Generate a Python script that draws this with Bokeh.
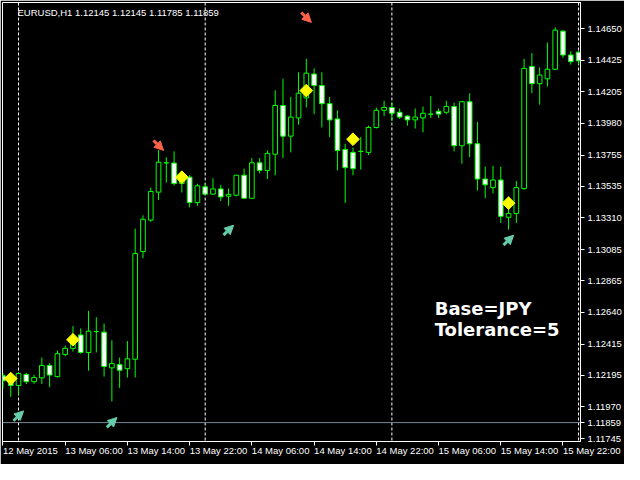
import math
import numpy as np
from bokeh.plotting import figure
from bokeh.models import (ColumnDataSource, LinearAxis, FixedTicker, PrintfTickFormatter,
                          Span, Label, Arrow, NormalHead)
from bokeh.embed import file_html
from bokeh.resources import INLINE

symbol_info = "EURUSD,H1  1.12145 1.12145 1.11785 1.11859"
last_price = 1.11859
base_text = "Base=JPY"
tolerance_text = "Tolerance=5"

# H1 candles, 12 May 22:00 .. 16 May 00:00 (bar index 0..74)
opens = [1.12191, 1.12164, 1.12122, 1.12200, 1.12149, 1.12176, 1.12264, 1.12185, 1.12342, 1.12385,
         1.12480, 1.12356, 1.12504, 1.12500, 1.12247, 1.12270, 1.12241, 1.12308, 1.13071, 1.13294,
         1.13492, 1.13700, 1.13698, 1.13553, 1.13598, 1.13418, 1.13530, 1.13478, 1.13515, 1.13463,
         1.13470, 1.13612, 1.13449, 1.13700, 1.13646, 1.13761, 1.14106, 1.13889, 1.14018, 1.14160,
         1.14329, 1.14248, 1.14119, 1.14011, 1.13794, 1.13774, 1.13781, 1.13774, 1.13950, 1.14072,
         1.14092, 1.14058, 1.14031, 1.14004, 1.14018, 1.14045, 1.14065, 1.14058, 1.14099, 1.13821,
         1.14133, 1.13835, 1.13585, 1.13524, 1.13578, 1.13314, 1.13341, 1.13517, 1.14383, 1.14261,
         1.14295, 1.14363, 1.14633, 1.14464, 1.14484]
highs = [1.12212, 1.12185, 1.12210, 1.12212, 1.12198, 1.12320, 1.12279, 1.12369, 1.12403, 1.12543,
         1.12527, 1.12651, 1.12606, 1.12561, 1.12442, 1.12320, 1.12437, 1.13233, 1.13328, 1.13524,
         1.13790, 1.13740, 1.13781, 1.13632, 1.13612, 1.13551, 1.13553, 1.13591, 1.13544, 1.13517,
         1.13615, 1.13659, 1.13733, 1.13733, 1.13788, 1.14214, 1.14295, 1.14166, 1.14342, 1.14437,
         1.14369, 1.14342, 1.14166, 1.14072, 1.13835, 1.13808, 1.13882, 1.13963, 1.14092, 1.14139,
         1.14126, 1.14085, 1.14038, 1.14085, 1.14099, 1.14173, 1.14085, 1.14139, 1.14126, 1.14139,
         1.14193, 1.13990, 1.13673, 1.13679, 1.13673, 1.13382, 1.13571, 1.14437, 1.14478, 1.14376,
         1.14552, 1.14660, 1.14640, 1.14491, 1.14491]
lows = [1.12099, 1.12042, 1.12056, 1.12132, 1.12134, 1.12132, 1.12110, 1.12178, 1.12329, 1.12362,
        1.12347, 1.12227, 1.12356, 1.12185, 1.12009, 1.12105, 1.12178, 1.12178, 1.13023, 1.13282,
        1.13436, 1.13560, 1.13540, 1.13490, 1.13384, 1.13395, 1.13474, 1.13474, 1.13429, 1.13395,
        1.13463, 1.13446, 1.13446, 1.13625, 1.13585, 1.13612, 1.13733, 1.13774, 1.13970, 1.14092,
        1.14045, 1.13950, 1.13882, 1.13646, 1.13416, 1.13612, 1.13652, 1.13754, 1.13943, 1.14031,
        1.13997, 1.14011, 1.13963, 1.13943, 1.13916, 1.14018, 1.14018, 1.14045, 1.13781, 1.13693,
        1.13740, 1.13504, 1.13449, 1.13483, 1.13274, 1.13226, 1.13274, 1.13510, 1.14193, 1.14112,
        1.14241, 1.14356, 1.14444, 1.14396, 1.14396]
closes = [1.12155, 1.12122, 1.12207, 1.12149, 1.12178, 1.12264, 1.12196, 1.12347, 1.12385, 1.12448,
          1.12356, 1.12507, 1.12504, 1.12257, 1.12277, 1.12230, 1.12311, 1.13057, 1.13300, 1.13497,
          1.13704, 1.13700, 1.13553, 1.13598, 1.13418, 1.13537, 1.13478, 1.13515, 1.13458, 1.13476,
          1.13612, 1.13449, 1.13700, 1.13646, 1.13767, 1.14106, 1.13889, 1.14024, 1.14193, 1.14335,
          1.14248, 1.14119, 1.14004, 1.13788, 1.13666, 1.13659, 1.13781, 1.13950, 1.14072, 1.14092,
          1.14051, 1.14024, 1.14004, 1.14024, 1.14051, 1.14045, 1.14045, 1.14099, 1.13821, 1.14133,
          1.13835, 1.13585, 1.13544, 1.13578, 1.13321, 1.13341, 1.13524, 1.14369, 1.14261, 1.14322,
          1.14363, 1.14640, 1.14464, 1.14417, 1.14423]

# indicator marks
diamond_idx = [1, 9, 23, 39, 45, 65]
diamond_price = [1.12171, 1.12446, 1.13598, 1.14212, 1.13867, 1.13414]
up_idx = [2, 14, 29, 65]
up_price = [1.11907, 1.11860, 1.13223, 1.13152]
down_idx = [20, 39]
down_price = [1.13823, 1.14730]

# axes
x_tick_idx = [0, 8, 16, 24, 32, 40, 48, 56, 64, 72]
x_tick_labels = ["12 May 2015", "13 May 06:00", "13 May 14:00", "13 May 22:00", "14 May 06:00",
                 "14 May 14:00", "14 May 22:00", "15 May 06:00", "15 May 14:00", "15 May 22:00"]
y_ticks = [1.14650, 1.14425, 1.14205, 1.13980, 1.13755, 1.13535, 1.13310, 1.13085,
           1.12865, 1.12640, 1.12415, 1.12195, 1.11970, 1.11745]
sep_idx = [2, 26, 50, 74]

GREEN = "#00FF00"
FONT = "Liberation Sans"

x0, x1 = -0.06, 74.25
y0, y1 = 1.11725, 1.14836

p = figure(width=624, height=464, x_range=(x0, x1), y_range=(y0, y1),
           output_backend="svg", toolbar_location=None, tools="",
           x_axis_location=None, y_axis_location=None,
           background_fill_color="black", border_fill_color="black",
           min_border_left=2, min_border_top=2, min_border_right=0, min_border_bottom=0)
p.outline_line_color = "white"
p.xgrid.visible = False
p.ygrid.visible = False

yaxis = LinearAxis(ticker=FixedTicker(ticks=y_ticks + [last_price]),
                   formatter=PrintfTickFormatter(format="%.5f"))
yaxis.axis_line_color = "white"
yaxis.major_tick_line_color = "white"
yaxis.major_tick_in = 0
yaxis.major_tick_out = 4
yaxis.minor_tick_line_color = None
yaxis.major_label_standoff = 3
yaxis.axis_label_standoff = 0
yaxis.major_label_text_color = "white"
yaxis.major_label_text_font = FONT
yaxis.major_label_text_font_size = "9.5px"
p.add_layout(yaxis, "right")

# time axis; a tiny negative angle makes the labels start at their tick
xaxis = LinearAxis(ticker=FixedTicker(ticks=x_tick_idx))
xaxis.major_label_overrides = dict(zip(x_tick_idx, x_tick_labels))
xaxis.major_label_orientation = -0.0001
xaxis.major_label_standoff = 5
xaxis.axis_label_standoff = 0
xaxis.axis_line_color = "white"
xaxis.major_tick_line_color = "white"
xaxis.major_tick_in = 0
xaxis.major_tick_out = 4
xaxis.minor_tick_line_color = None
xaxis.major_label_text_color = "white"
xaxis.major_label_text_font = FONT
xaxis.major_label_text_font_size = "9.5px"
p.add_layout(xaxis, "below")

# day separators and current price line
for s in sep_idx:
    p.add_layout(Span(location=s, dimension="height", line_color="white",
                      line_dash="3 2", line_width=1, level="underlay"))
p.add_layout(Span(location=last_price, dimension="width", line_color="#778899",
                  line_width=1, level="underlay"))

# candles
o = np.array(opens)
c = np.array(closes)
src = ColumnDataSource(data=dict(
    idx=list(range(len(opens))), high=highs, low=lows,
    top=np.maximum(o, c), bottom=np.minimum(o, c),
    fill=["white" if cc < oo else "black" for oo, cc in zip(opens, closes)],
))
p.segment(x0="idx", y0="high", x1="idx", y1="low", source=src, line_color=GREEN, line_width=1)
p.vbar(x="idx", width=0.6, top="top", bottom="bottom", source=src,
       fill_color="fill", line_color=GREEN, line_width=1)

# diamonds
p.scatter(diamond_idx, diamond_price, marker="square", angle=math.pi / 4, size=9,
          fill_color="yellow", line_color="yellow")

# arrows
dx, dy = 0.65, 0.00035
up_src = ColumnDataSource(data=dict(
    xs=[i - dx for i in up_idx], ys=[v - dy for v in up_price],
    xe=[i + dx for i in up_idx], ye=[v + dy for v in up_price]))
p.add_layout(Arrow(end=NormalHead(size=9, fill_color="#66CDAA", line_color="#66CDAA"),
                   x_start="xs", y_start="ys", x_end="xe", y_end="ye", source=up_src,
                   line_color="#66CDAA", line_width=3))
dn_src = ColumnDataSource(data=dict(
    xs=[i - dx for i in down_idx], ys=[v + dy for v in down_price],
    xe=[i + dx for i in down_idx], ye=[v - dy for v in down_price]))
p.add_layout(Arrow(end=NormalHead(size=9, fill_color="#FF6347", line_color="#FF6347"),
                   x_start="xs", y_start="ys", x_end="xe", y_end="ye", source=dn_src,
                   line_color="#FF6347", line_width=3))

# texts
p.add_layout(Label(x=x0, y=y1, x_offset=15, y_offset=-4, text=symbol_info, text_baseline="top",
                   text_color="white", text_font=FONT, text_font_size="9.5px"))
p.add_layout(Label(x=55.5, y=1.12590, text=base_text, text_color="white", text_font="DejaVu Sans",
                   text_font_style="bold", text_font_size="18px"))
p.add_layout(Label(x=55.5, y=1.12442, text=tolerance_text, text_color="white", text_font="DejaVu Sans",
                   text_font_style="bold", text_font_size="18px"))

open("out.html", "w").write(file_html(p, INLINE))
